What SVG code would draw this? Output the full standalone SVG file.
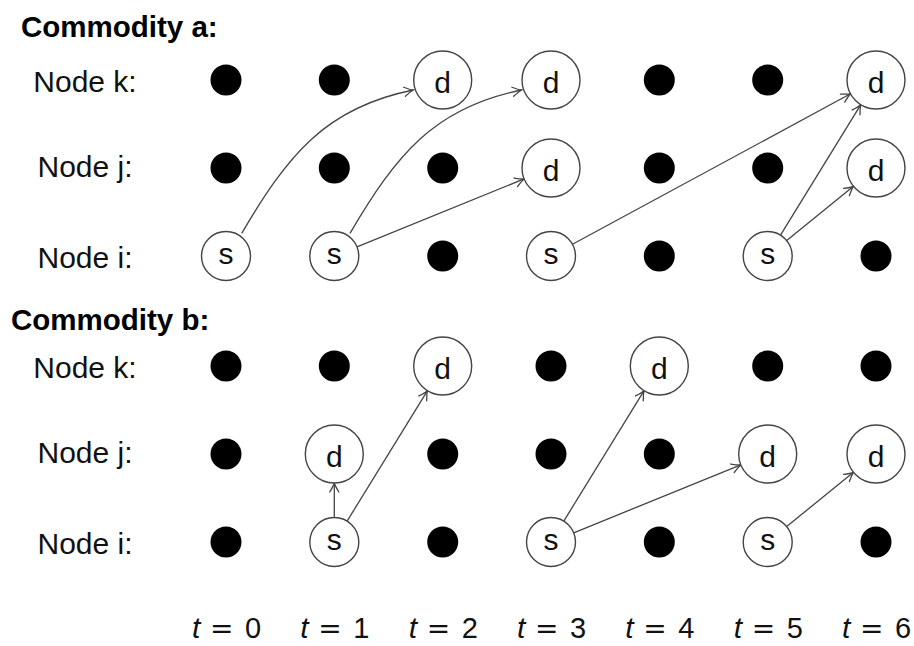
<svg xmlns="http://www.w3.org/2000/svg" width="914" height="646" viewBox="0 0 914 646">
  <style>
    .title { font-family: "Liberation Sans", Arial, sans-serif; font-weight: bold; font-size: 29.5px; fill: #000; }
    .row { font-family: "Liberation Sans", Arial, sans-serif; font-size: 30px; fill: #111; text-anchor: middle; }
    .dot { fill: #000; }
    .ring { fill: #fff; stroke: #444; stroke-width: 1.4; }
    .lbl { font-family: "Liberation Sans", Arial, sans-serif; font-size: 30px; fill: #111; text-anchor: middle; }
    .edge { fill: none; stroke: #444; stroke-width: 1.3; marker-end: url(#arr); }
    .time { font-family: "Liberation Sans", Arial, sans-serif; font-size: 29px; fill: #111; }
    .ti { font-style: italic; font-size: 30px; }
    .eq { font-family: "DejaVu Sans", sans-serif; font-size: 28px; }
  </style>
  <defs>
    <marker id="arr" viewBox="-12 -7 14 14" markerWidth="14" markerHeight="14" refX="0" refY="0" orient="auto" markerUnits="userSpaceOnUse">
      <path d="M-9,-4.6 Q-3,-0.9 0,0 Q-3,0.9 -9,4.6" fill="none" stroke="#444" stroke-width="1.3" stroke-linecap="round"/>
    </marker>
    <circle id="blk" r="15.5" class="dot"/>
  </defs>

  <rect width="914" height="646" fill="#fff"/>

  <!-- headings and row names -->
  <text class="title" x="21" y="37">Commodity a:</text>
  <text class="row" x="85" y="92">Node k:</text>
  <text class="row" x="85" y="177">Node j:</text>
  <text class="row" x="85" y="268">Node i:</text>

  <text class="title" x="11" y="330">Commodity b:</text>
  <text class="row" x="85" y="378">Node k:</text>
  <text class="row" x="85" y="463">Node j:</text>
  <text class="row" x="85" y="554">Node i:</text>

  <!-- connectors -->
  <g id="connectors">
    <!-- commodity a -->
    <path class="edge" d="M241.7,233.3 C287.4,155.8 325,107.6 413.3,90"/>
    <path class="edge" d="M350,233.3 C395.7,155.8 433.3,107.6 521.6,90"/>
    <path class="edge" d="M357,246.8 L524.1,178.9"/>
    <path class="edge" d="M572.5,244.3 L850.5,93.8"/>
    <path class="edge" d="M780.5,235.1 L860.8,104.7"/>
    <path class="edge" d="M786.7,240.5 L853.5,186.3"/>
    <!-- commodity b -->
    <path class="edge" d="M334.3,517.5 L334.3,483"/>
    <path class="edge" d="M347.1,521.1 L427.5,390.7"/>
    <path class="edge" d="M563.8,521.1 L644.1,390.7"/>
    <path class="edge" d="M573.7,532.8 L740.8,464.9"/>
    <path class="edge" d="M786.7,526.5 L853.5,472.3"/>
  </g>

  <!-- commodity a nodes -->
  <g id="a-k0"><use href="#blk" x="226" y="80"/></g>
  <g id="a-k1"><use href="#blk" x="334.3" y="80"/></g>
  <g id="a-k2"><circle class="ring" cx="442.7" cy="80" r="29"/><text class="lbl" x="442.7" y="93">d</text></g>
  <g id="a-k3"><circle class="ring" cx="551" cy="80" r="29"/><text class="lbl" x="551" y="93">d</text></g>
  <g id="a-k4"><use href="#blk" x="659.3" y="80"/></g>
  <g id="a-k5"><use href="#blk" x="767.7" y="80"/></g>
  <g id="a-k6"><circle class="ring" cx="876" cy="80" r="29"/><text class="lbl" x="876" y="93">d</text></g>

  <g id="a-j0"><use href="#blk" x="226" y="168"/></g>
  <g id="a-j1"><use href="#blk" x="334.3" y="168"/></g>
  <g id="a-j2"><use href="#blk" x="442.7" y="168"/></g>
  <g id="a-j3"><circle class="ring" cx="551" cy="168" r="29"/><text class="lbl" x="551" y="181">d</text></g>
  <g id="a-j4"><use href="#blk" x="659.3" y="168"/></g>
  <g id="a-j5"><use href="#blk" x="767.7" y="168"/></g>
  <g id="a-j6"><circle class="ring" cx="876" cy="168" r="29"/><text class="lbl" x="876" y="181">d</text></g>

  <g id="a-i0"><circle class="ring" cx="226" cy="256" r="24.5"/><text class="lbl" x="226" y="264">s</text></g>
  <g id="a-i1"><circle class="ring" cx="334.3" cy="256" r="24.5"/><text class="lbl" x="334.3" y="264">s</text></g>
  <g id="a-i2"><use href="#blk" x="442.7" y="256"/></g>
  <g id="a-i3"><circle class="ring" cx="551" cy="256" r="24.5"/><text class="lbl" x="551" y="264">s</text></g>
  <g id="a-i4"><use href="#blk" x="659.3" y="256"/></g>
  <g id="a-i5"><circle class="ring" cx="767.7" cy="256" r="24.5"/><text class="lbl" x="767.7" y="264">s</text></g>
  <g id="a-i6"><use href="#blk" x="876" y="256"/></g>

  <!-- commodity b nodes -->
  <g id="b-k0"><use href="#blk" x="226" y="366"/></g>
  <g id="b-k1"><use href="#blk" x="334.3" y="366"/></g>
  <g id="b-k2"><circle class="ring" cx="442.7" cy="366" r="29"/><text class="lbl" x="442.7" y="379">d</text></g>
  <g id="b-k3"><use href="#blk" x="551" y="366"/></g>
  <g id="b-k4"><circle class="ring" cx="659.3" cy="366" r="29"/><text class="lbl" x="659.3" y="379">d</text></g>
  <g id="b-k5"><use href="#blk" x="767.7" y="366"/></g>
  <g id="b-k6"><use href="#blk" x="876" y="366"/></g>

  <g id="b-j0"><use href="#blk" x="226" y="454"/></g>
  <g id="b-j1"><circle class="ring" cx="334.3" cy="454" r="29"/><text class="lbl" x="334.3" y="467">d</text></g>
  <g id="b-j2"><use href="#blk" x="442.7" y="454"/></g>
  <g id="b-j3"><use href="#blk" x="551" y="454"/></g>
  <g id="b-j4"><use href="#blk" x="659.3" y="454"/></g>
  <g id="b-j5"><circle class="ring" cx="767.7" cy="454" r="29"/><text class="lbl" x="767.7" y="467">d</text></g>
  <g id="b-j6"><circle class="ring" cx="876" cy="454" r="29"/><text class="lbl" x="876" y="467">d</text></g>

  <g id="b-i0"><use href="#blk" x="226" y="542"/></g>
  <g id="b-i1"><circle class="ring" cx="334.3" cy="542" r="24.5"/><text class="lbl" x="334.3" y="550">s</text></g>
  <g id="b-i2"><use href="#blk" x="442.7" y="542"/></g>
  <g id="b-i3"><circle class="ring" cx="551" cy="542" r="24.5"/><text class="lbl" x="551" y="550">s</text></g>
  <g id="b-i4"><use href="#blk" x="659.3" y="542"/></g>
  <g id="b-i5"><circle class="ring" cx="767.7" cy="542" r="24.5"/><text class="lbl" x="767.7" y="550">s</text></g>
  <g id="b-i6"><use href="#blk" x="876" y="542"/></g>

  <!-- time axis -->
  <g id="time-axis">
    <text class="time" y="638"><tspan class="ti" x="192">t</tspan><tspan class="eq" x="210">=</tspan><tspan x="245">0</tspan></text>
    <text class="time" y="638"><tspan class="ti" x="300.3">t</tspan><tspan class="eq" x="318.3">=</tspan><tspan x="353.3">1</tspan></text>
    <text class="time" y="638"><tspan class="ti" x="408.7">t</tspan><tspan class="eq" x="426.7">=</tspan><tspan x="461.7">2</tspan></text>
    <text class="time" y="638"><tspan class="ti" x="517">t</tspan><tspan class="eq" x="535">=</tspan><tspan x="570">3</tspan></text>
    <text class="time" y="638"><tspan class="ti" x="625.3">t</tspan><tspan class="eq" x="643.3">=</tspan><tspan x="678.3">4</tspan></text>
    <text class="time" y="638"><tspan class="ti" x="733.7">t</tspan><tspan class="eq" x="751.7">=</tspan><tspan x="786.7">5</tspan></text>
    <text class="time" y="638"><tspan class="ti" x="842">t</tspan><tspan class="eq" x="860">=</tspan><tspan x="895">6</tspan></text>
  </g>
</svg>
